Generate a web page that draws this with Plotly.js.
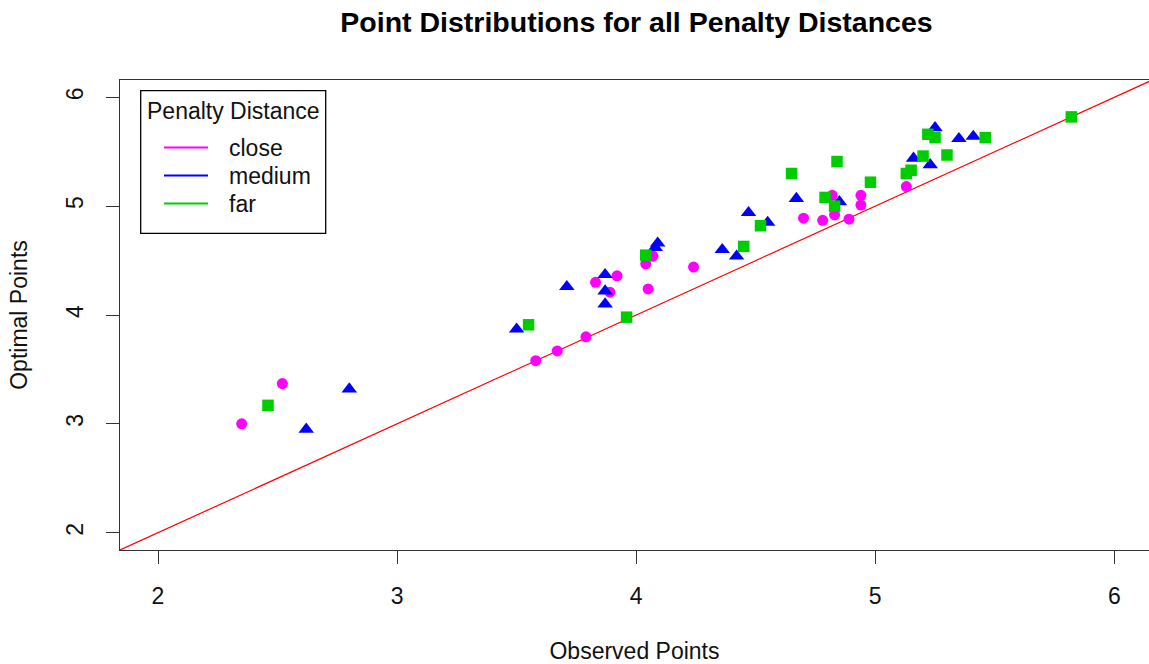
<!DOCTYPE html>
<html>
<head>
<meta charset="utf-8">
<script src="https://cdn.plot.ly/plotly-3.0.1.min.js"></script>
<style>html,body{margin:0;padding:0;background:#fff;}#chart{width:1149px;height:664px;}</style>
</head>
<body>
<div id="chart"></div>
<script>
// Observed (x) vs optimal (y) points by penalty distance
const closeX  = [2.35, 2.52, 3.58, 3.67, 3.79, 3.83, 3.92, 3.89, 4.04, 4.07, 4.05, 4.24, 4.70, 4.78, 4.82, 4.83, 4.89, 4.94, 4.94, 5.13];
const closeY  = [3.00, 3.37, 3.58, 3.67, 3.80, 4.30, 4.36, 4.21, 4.47, 4.54, 4.24, 4.44, 4.89, 4.87, 5.10, 4.92, 4.88, 5.10, 5.01, 5.18];
const mediumX = [2.62, 2.80, 3.50, 3.71, 3.87, 3.87, 3.87, 4.08, 4.09, 4.36, 4.42, 4.47, 4.55, 4.67, 4.85, 5.16, 5.23, 5.25, 5.35, 5.41];
const mediumY = [2.95, 3.32, 3.87, 4.26, 4.37, 4.22, 4.10, 4.62, 4.66, 4.60, 4.54, 4.94, 4.85, 5.07, 5.04, 5.44, 5.38, 5.72, 5.62, 5.64];
const farX    = [2.46, 3.55, 3.96, 4.04, 4.45, 4.52, 4.65, 4.79, 4.84, 4.83, 4.98, 5.13, 5.15, 5.20, 5.30, 5.22, 5.25, 5.46, 5.82];
const farY    = [3.17, 3.91, 3.98, 4.55, 4.63, 4.82, 5.30, 5.08, 5.41, 5.00, 5.22, 5.30, 5.33, 5.46, 5.47, 5.66, 5.63, 5.63, 5.82];
const groupNames = ["close", "medium", "far"];
const legendTitle = "Penalty Distance";
const tickValues = [2, 3, 4, 5, 6];
const refLine = {intercept: 0, slope: 1};

const colors = ["#FF00FF", "#0000FF", "#00CD00"];
const symbols = ["circle", "triangle-up", "square"];
const sizes = [11, 13.5, 11.5];
const xs = [closeX, mediumX, farX];
const ys = [closeY, mediumY, farY];

const FONT = "Liberation Sans, Arial, sans-serif";
const xRange = [1.841, 6.145];
const yRange = [1.841, 6.159];

// plot area in pixels (for placing the legend box)
const PL = 120, PR = 1149, PT = 80, PB = 550;
const px = v => (v - PL) / (PR - PL);
const py = v => (PB - v) / (PB - PT);

const traces = [];
for (let i = 0; i < 3; i++) {
  traces.push({
    x: xs[i], y: ys[i], type: "scatter", mode: "markers", name: groupNames[i], showlegend: false,
    marker: {color: colors[i], symbol: symbols[i], size: sizes[i], line: {width: 0}},
    hoverinfo: "x+y"
  });
}

const axisBase = {
  showgrid: false, zeroline: false, showline: true, linecolor: "#333", linewidth: 1,
  ticks: "outside", ticklen: 13, tickwidth: 1, tickcolor: "#333",
  tickfont: {family: FONT, size: 23, color: "#111"},
  tickvals: tickValues, automargin: false
};

const shapes = [{
  type: "line", xref: "x", yref: "y",
  x0: xRange[0], y0: refLine.intercept + refLine.slope * xRange[0],
  x1: 6.16, y1: refLine.intercept + refLine.slope * 6.16,
  line: {color: "#FF0000", width: 1.2}, layer: "below"
}, {
  type: "rect", xref: "paper", yref: "paper",
  x0: px(140.7), x1: px(325.7), y0: py(233.3), y1: py(90.7),
  line: {color: "#000", width: 1.3}, fillcolor: "rgba(0,0,0,0)"
}];
const annotations = [{
  text: legendTitle, xref: "paper", yref: "paper", x: px(145), y: py(111.5),
  xanchor: "left", yanchor: "middle", showarrow: false,
  font: {family: FONT, size: 23, color: "#111"}
}];
const rowY = [147.5, 175.5, 203.5];
for (let i = 0; i < 3; i++) {
  shapes.push({
    type: "line", xref: "paper", yref: "paper",
    x0: px(164), x1: px(208), y0: py(rowY[i]), y1: py(rowY[i]),
    line: {color: colors[i], width: 2.2}
  });
  annotations.push({
    text: groupNames[i], xref: "paper", yref: "paper", x: px(227), y: py(rowY[i]),
    xanchor: "left", yanchor: "middle", showarrow: false,
    font: {family: FONT, size: 23, color: "#111"}
  });
}

const layout = {
  width: 1149, height: 664,
  margin: {l: PL, r: 1149 - PR, t: PT, b: 664 - PB},
  paper_bgcolor: "#fff", plot_bgcolor: "#fff",
  title: {text: "<b>Point Distributions for all Penalty Distances</b>",
          font: {family: FONT, size: 28.5, color: "#000"},
          x: 636.5 / 1149, xanchor: "center", xref: "container", y: 1 - 22/664, yref: "container", yanchor: "middle"},
  xaxis: Object.assign({}, axisBase, {
    range: xRange, mirror: true, ticklabelstandoff: 12,
    title: {text: "Observed Points", font: {family: FONT, size: 23, color: "#111"}, standoff: 36}
  }),
  yaxis: Object.assign({}, axisBase, {
    range: yRange, mirror: false, tickangle: -90, ticklabelstandoff: 14,
    title: {text: "Optimal Points", font: {family: FONT, size: 23, color: "#111"}, standoff: 27}
  }),
  shapes: shapes,
  annotations: annotations,
  showlegend: false
};

Plotly.newPlot("chart", traces, layout, {displayModeBar: false, staticPlot: true});
</script>
</body>
</html>
